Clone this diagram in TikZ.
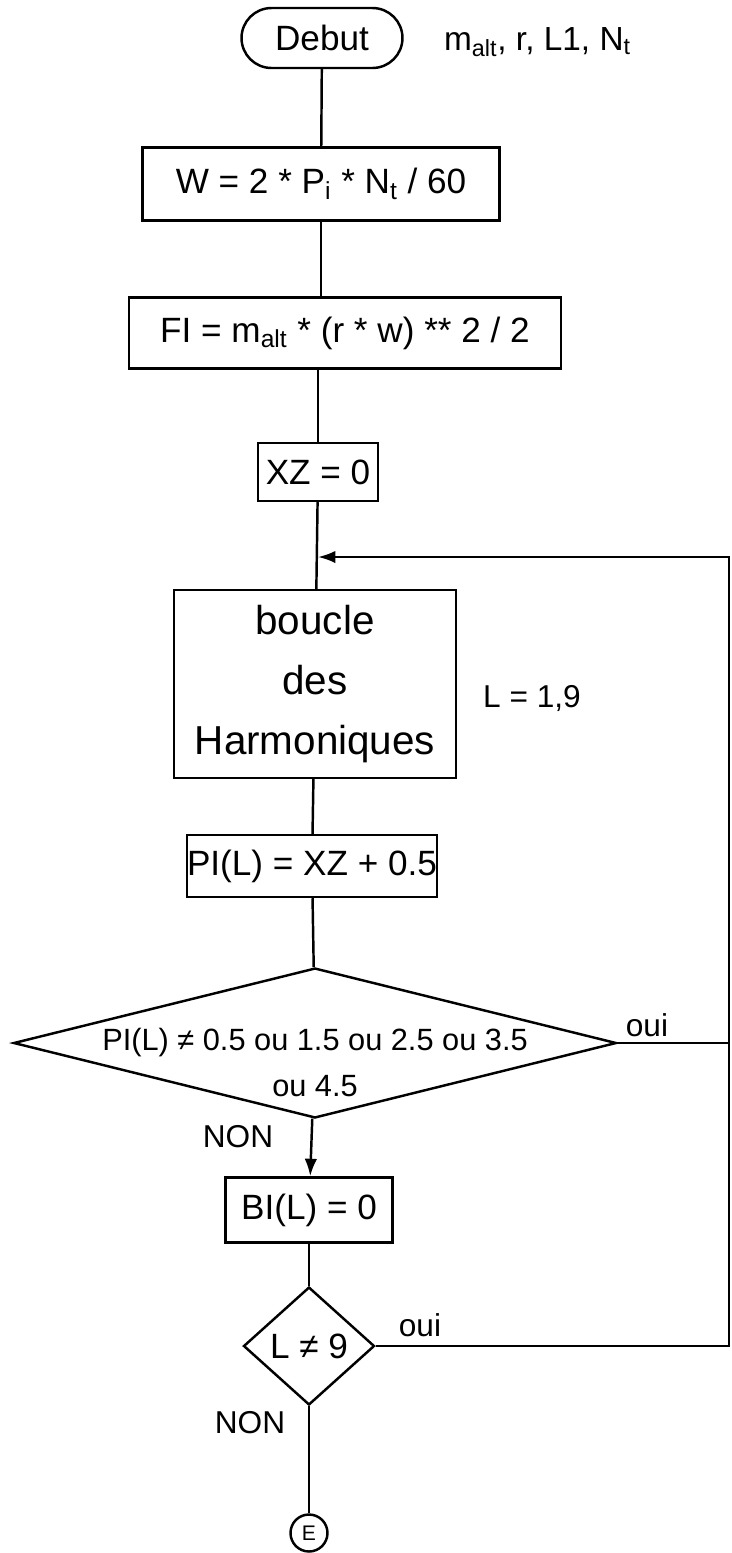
\documentclass[tikz,border=0pt]{standalone}
\usepackage{fontspec}
\setmainfont{Liberation Sans}
\usetikzlibrary{arrows.meta,positioning,shapes.geometric,shapes.misc}

\newcommand{\flattext}[1]{\raisebox{-0.15cm}[0pt][0pt]{\makebox[0pt]{#1}}}

\begin{document}
\begin{tikzpicture}[
  x=0.02cm, y=-0.02cm,
  line width=1.4pt,
  >={Latex[length=0.35cm,width=0.25cm]},
  font=\fontsize{20}{24}\selectfont,
  terminal/.style={draw, rounded rectangle, minimum width=3.22cm, minimum height=1.2cm, inner sep=0pt},
  box/.style={draw, align=center, inner sep=0pt},
  decision/.style={draw, diamond, inner sep=0pt},
  connector/.style={draw, circle, minimum size=0.74cm, inner sep=0pt, font=\fontsize{12}{14}\selectfont},
  lab/.style={font=\fontsize{18}{22}\selectfont}
]
  \useasboundingbox (0,0) rectangle (731,1553);

  \node[terminal] (debut) at (322,38) {Debut};
  \node[lab, anchor=west, font=\fontsize{19}{23}\selectfont] (inputs) at (437,42) {m\textsubscript{alt}, r, L1, N\textsubscript{t}};

  \node[box, minimum width=7.14cm, minimum height=1.46cm] (wbox) at (321,184)
    {W = 2 * P\textsubscript{i} * N\textsubscript{t} / 60};
  \node[box, minimum width=8.64cm, minimum height=1.42cm] (fibox) at (345,333)
    {FI = m\textsubscript{alt} * (r * w) ** 2 / 2};
  \node[box, minimum width=2.4cm, minimum height=1.16cm] (xzbox) at (318,472) {XZ = 0};

  % retour de boucle
  \coordinate (loop) at (318,557);
  \coordinate (ret) at (729,557);

  \node[box, minimum width=5.64cm, minimum height=3.76cm, font=\fontsize{23}{34}\selectfont] (boucle) at (315,684)
    {boucle\\des\\Harmoniques};
  \node[lab] (lrange) at (532,698) {L = 1,9};
  \node[box, minimum width=4.5cm, minimum height=1.24cm] (pibox) at (312,866) {PI(L) = XZ + 0.5};

  \node[decision, minimum width=12.06cm, minimum height=3cm] (test1) at (315,1043)
    {\flattext{\fontsize{17.5}{26}\selectfont\begin{tabular}[t]{@{}c@{}}PI(L) ≠ 0.5 ou 1.5 ou 2.5 ou 3.5\\ ou 4.5\end{tabular}}};
  \node[lab] (oui1) at (647,1025) {oui};
  \node[lab] (non1) at (238,1137) {NON};

  \node[box, minimum width=3.34cm, minimum height=1.3cm] (bibox) at (309,1210) {BI(L) = 0};
  \node[decision, minimum width=2.62cm, minimum height=2.36cm] (test2) at (309,1346) {L ≠ 9};
  \node[lab] (oui2) at (420,1325) {oui};
  \node[lab] (non2) at (250,1423) {NON};
  \node[connector] (fin) at (309,1533) {E};

  \draw (debut) -- (wbox);
  \draw (wbox) -- (wbox |- fibox.north);
  \draw (xzbox |- fibox.south) -- (xzbox);
  \draw (xzbox) -- (boucle);
  \draw (boucle) -- (pibox);
  \draw (pibox) -- (test1);
  \draw[->] (test1) -- (bibox);
  \draw (bibox) -- (test2);
  \draw (test2) -- (fin);
  \draw (test1.east) -- (test1.east -| ret);
  \draw[->] (test2.east) -- (test2.east -| ret) -- (ret) -- (loop);
\end{tikzpicture}
\end{document}
